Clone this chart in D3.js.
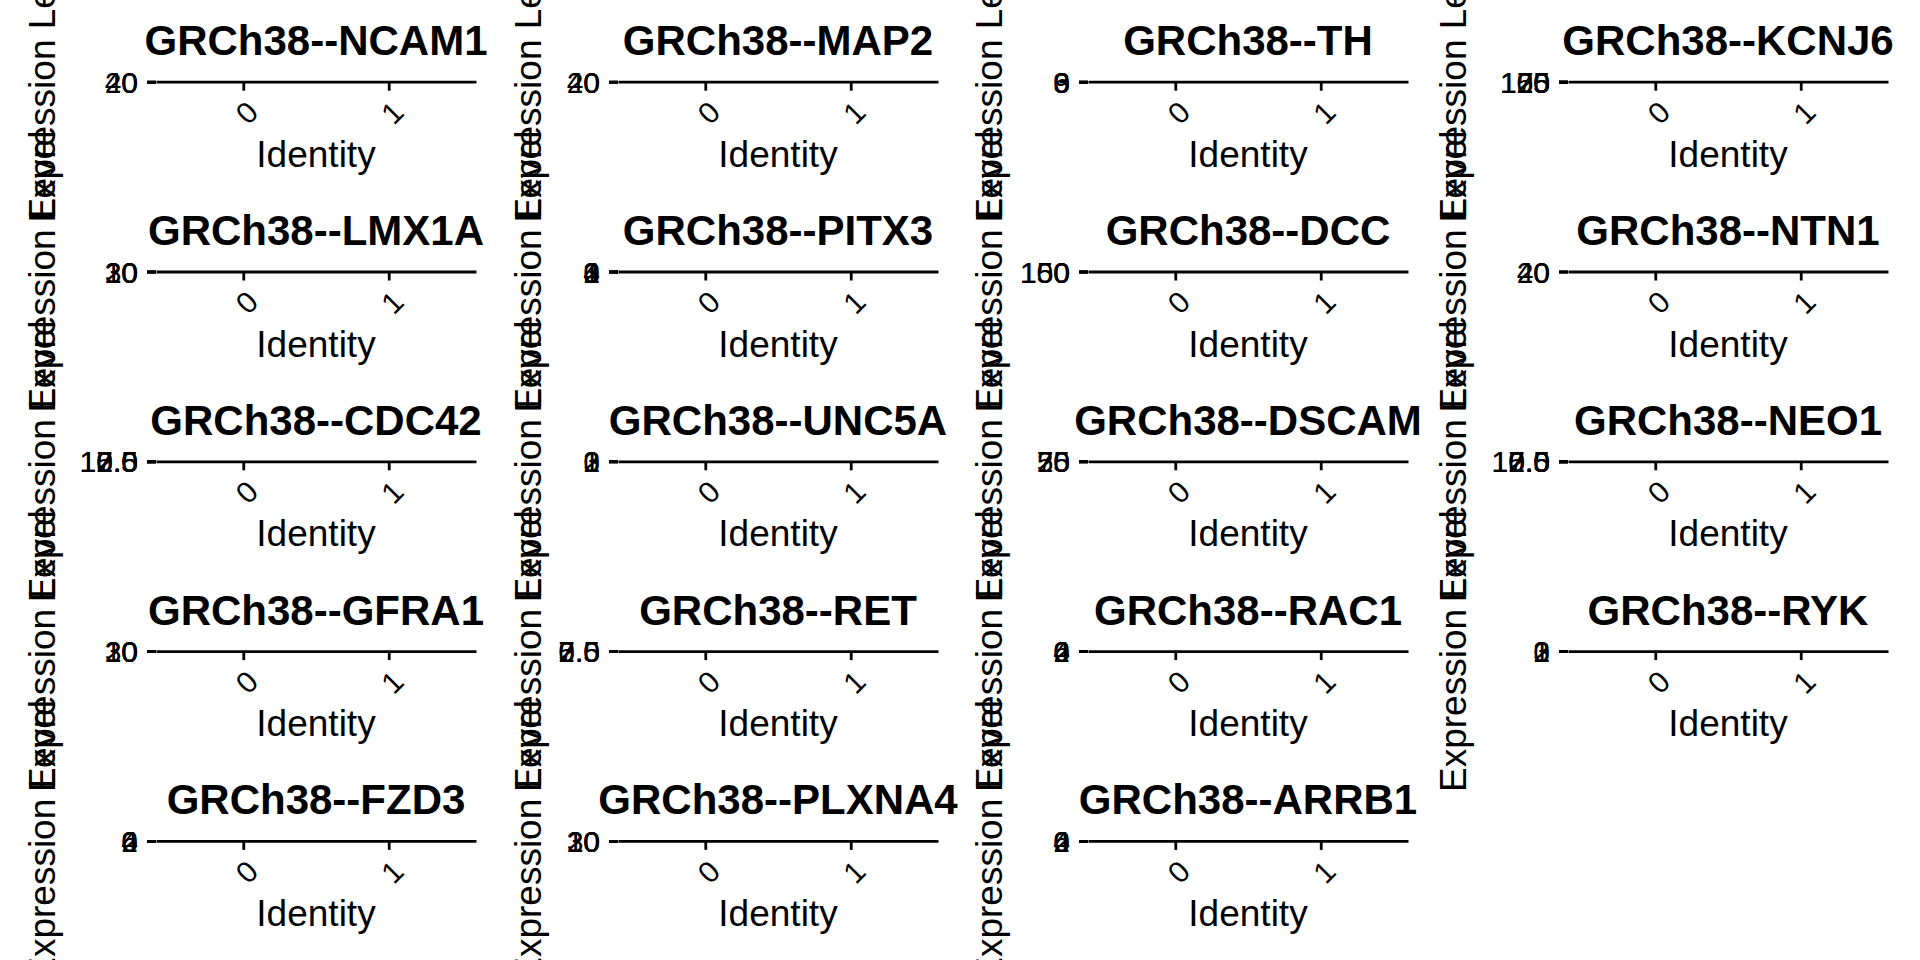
<!DOCTYPE html>
<html>
<head>
<meta charset="utf-8">
<script src="https://cdn.jsdelivr.net/npm/d3@7"></script>
<style>
  html, body { margin: 0; padding: 0; background: #fff; }
  svg { display: block; }
</style>
</head>
<body>
<svg id="chart" width="1920" height="960"></svg>
<script>
// ---------------- data ----------------
const genes = [
  "GRCh38--NCAM1", "GRCh38--MAP2", "GRCh38--TH", "GRCh38--KCNJ6",
  "GRCh38--LMX1A", "GRCh38--PITX3", "GRCh38--DCC", "GRCh38--NTN1",
  "GRCh38--CDC42", "GRCh38--UNC5A", "GRCh38--DSCAM", "GRCh38--NEO1",
  "GRCh38--GFRA1", "GRCh38--RET", "GRCh38--RAC1", "GRCh38--RYK",
  "GRCh38--FZD3", "GRCh38--PLXNA4", "GRCh38--ARRB1"
];
const identities = ["0", "1"];
// y tick labels of each panel (they all collapse onto one line)
const yTickLabels = [
  ["0", "20", "40"], ["0", "20", "40"], ["0", "3", "6", "9"], ["0", "25", "50", "75", "100", "125"],
  ["0", "10", "20", "30"], ["0", "1", "2", "3", "4"], ["0", "50", "100", "150"], ["0", "20", "40"],
  ["0.0", "2.5", "5.0", "7.5", "10.0", "12.5"], ["0", "1", "2", "3"], ["0", "25", "50", "75"], ["0.0", "2.5", "5.0", "7.5", "10.0", "12.5"],
  ["0", "10", "20", "30"], ["0.0", "2.5", "5.0", "7.5"], ["0", "2", "4", "6"], ["0", "1", "2", "3"],
  ["0", "2", "4", "6"], ["0", "10", "20", "30"], ["0", "2", "4", "6"]
];
const xTitle = "Identity";
const yTitle = "Expression Level";

// ---------------- layout ----------------
const nCols = 4;
const panelLeft = [156, 618, 1088, 1568];
const yTitleX = [55, 541, 1002, 1466];
const panelW = 320;
const rowY0 = 81.7, rowPitch = 189.8;
const FONT = "'Liberation Sans', Arial, Helvetica, sans-serif";
const lw = 2.8;

const svg = d3.select("#chart");

genes.forEach((gene, i) => {
  const col = i % nCols, row = Math.floor(i / nCols);
  const left = panelLeft[col];
  const axisY = rowY0 + row * rowPitch;
  const g = svg.append("g");

  // x scale (discrete identities, ggplot expand 0.6)
  const x = d3.scalePoint().domain(identities).range([left, left + panelW]).padding(0.6);
  // y scale collapsed to zero height
  const vals = yTickLabels[i].map(Number);
  const y = d3.scaleLinear().domain([0, d3.max(vals)]).range([axisY, axisY]);

  // y axis title
  g.append("text")
    .attr("transform", `translate(${yTitleX[col]},${axisY}) rotate(-90)`)
    .attr("text-anchor", "middle")
    .attr("font-family", FONT).attr("font-size", 37)
    .attr("fill", "#000")
    .text(yTitle);

  // y axis
  const ya = g.append("g")
    .attr("transform", `translate(${left},0)`)
    .call(d3.axisLeft(y).tickValues(vals).tickSize(9).tickSizeOuter(0).tickPadding(9)
      .tickFormat((d, k) => yTickLabels[i][k]));
  ya.attr("font-family", FONT).attr("font-size", 30);
  ya.selectAll("line").attr("stroke", "#000").attr("stroke-width", lw);
  ya.select(".domain").remove();
  ya.selectAll("text").attr("fill", "#000").attr("dy", "0.35em");

  // x axis
  const xa = g.append("g")
    .attr("transform", `translate(0,${axisY})`)
    .call(d3.axisBottom(x).tickSize(9).tickSizeOuter(0));
  xa.attr("font-family", FONT).attr("font-size", 30);
  xa.select(".domain").attr("stroke", "#000").attr("stroke-width", lw);
  xa.selectAll("line").attr("stroke", "#000").attr("stroke-width", lw);
  xa.selectAll("text")
    .attr("fill", "#000")
    .attr("y", null).attr("dy", null)
    .attr("text-anchor", "middle")
    .attr("dominant-baseline", "central")
    .attr("transform", "translate(3,31) rotate(-45)");

  // x axis title
  g.append("text")
    .attr("x", left + panelW / 2).attr("y", axisY + 85)
    .attr("text-anchor", "middle")
    .attr("font-family", FONT).attr("font-size", 37)
    .attr("fill", "#000")
    .text(xTitle);

  // panel title
  g.append("text")
    .attr("x", left + panelW / 2).attr("y", axisY - 26.5)
    .attr("text-anchor", "middle")
    .attr("font-family", FONT).attr("font-size", 42).attr("font-weight", "bold")
    .attr("fill", "#000")
    .text(gene);
});
</script>
</body>
</html>
